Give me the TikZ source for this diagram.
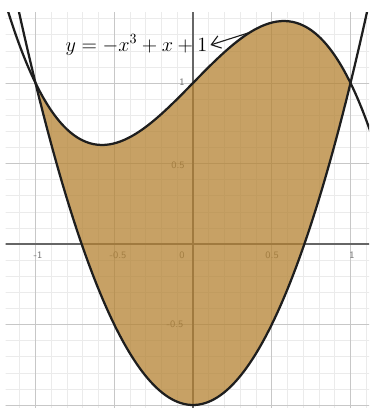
\documentclass[tikz,border=0pt]{standalone}
\usetikzlibrary{arrows.meta}
\definecolor{areafill}{RGB}{180,130,50}
\definecolor{curvecol}{RGB}{30,30,30}
\tikzset{
  curve/.style={line width=1.6pt, draw=curvecol, line join=round},
  ticklbl/.style={font=\fontsize{7}{8}\selectfont\sffamily, text=black!55, inner sep=0pt},
}

\begin{document}
\begin{tikzpicture}[x=3.9375cm, y=4.025cm]
        \useasboundingbox (-1.2254,-1.0186) rectangle (1.1175,1.5155);
        \begin{scope}
        \clip (-1.19,-1.0186) rectangle (1.1175,1.44);

        % mřížka
        \foreach \i in {-12,...,11}
            \draw[black!8, line width=0.4pt] (\i/10,-1.1) -- (\i/10,1.5);
        \foreach \j in {-11,...,15}
            \draw[black!8, line width=0.4pt] (-1.3,\j/10) -- (1.2,\j/10);
        \foreach \i in {-1,-0.5,0.5,1}
            \draw[black!22, line width=0.5pt] (\i,-1.1) -- (\i,1.5);
        \foreach \j in {-1,-0.5,0.5,1}
            \draw[black!22, line width=0.5pt] (-1.3,\j) -- (1.2,\j);

        % osy
        \draw[black!60, line width=0.8pt] (-1.3,0) -- (1.2,0);
        \draw[black!60, line width=0.8pt] (0,-1.1) -- (0,1.5);

        % popisky os
        \node[ticklbl] (xm1) at (-0.984,-0.068) {-1};
        \node[ticklbl] (xm05) at (-0.476,-0.068) {-0.5};
        \node[ticklbl] (x0) at (-0.07,-0.068) {0};
        \node[ticklbl] (x05) at (0.502,-0.068) {0.5};
        \node[ticklbl] (x1) at (1.01,-0.068) {1};
        \node[ticklbl] (y1) at (-0.07,1.006) {1};
        \node[ticklbl] (y05) at (-0.095,0.49) {0.5};
        \node[ticklbl] (ym05) at (-0.114,-0.497) {-0.5};

        % plocha mezi křivkami
        \fill[areafill, fill opacity=0.75]
            plot[domain=-1:1, samples=80, smooth] (\x,{-\x*\x*\x+\x+1})
            -- plot[domain=1:-1, samples=80, smooth] (\x,{2*\x*\x-1}) -- cycle;

        % křivky
        \draw[curve] plot[domain=-1.25:1.2, samples=100, smooth] (\x,{-\x*\x*\x+\x+1});
        \draw[curve] plot[domain=-1.15:1.15, samples=100, smooth] (\x,{2*\x*\x-1});
        \end{scope}

        % popisek
        \coordinate (pc) at (0.362,1.3145);
        \node[inner sep=2pt] (lbl) at (-0.359,1.236) {\Large $y=-x^3+x+1$};
        \draw[curvecol, line width=0.8pt, -{Straight Barb[length=2.2mm,width=3.2mm]}] (pc) -- (lbl.east);
    \end{tikzpicture}
\end{document}
